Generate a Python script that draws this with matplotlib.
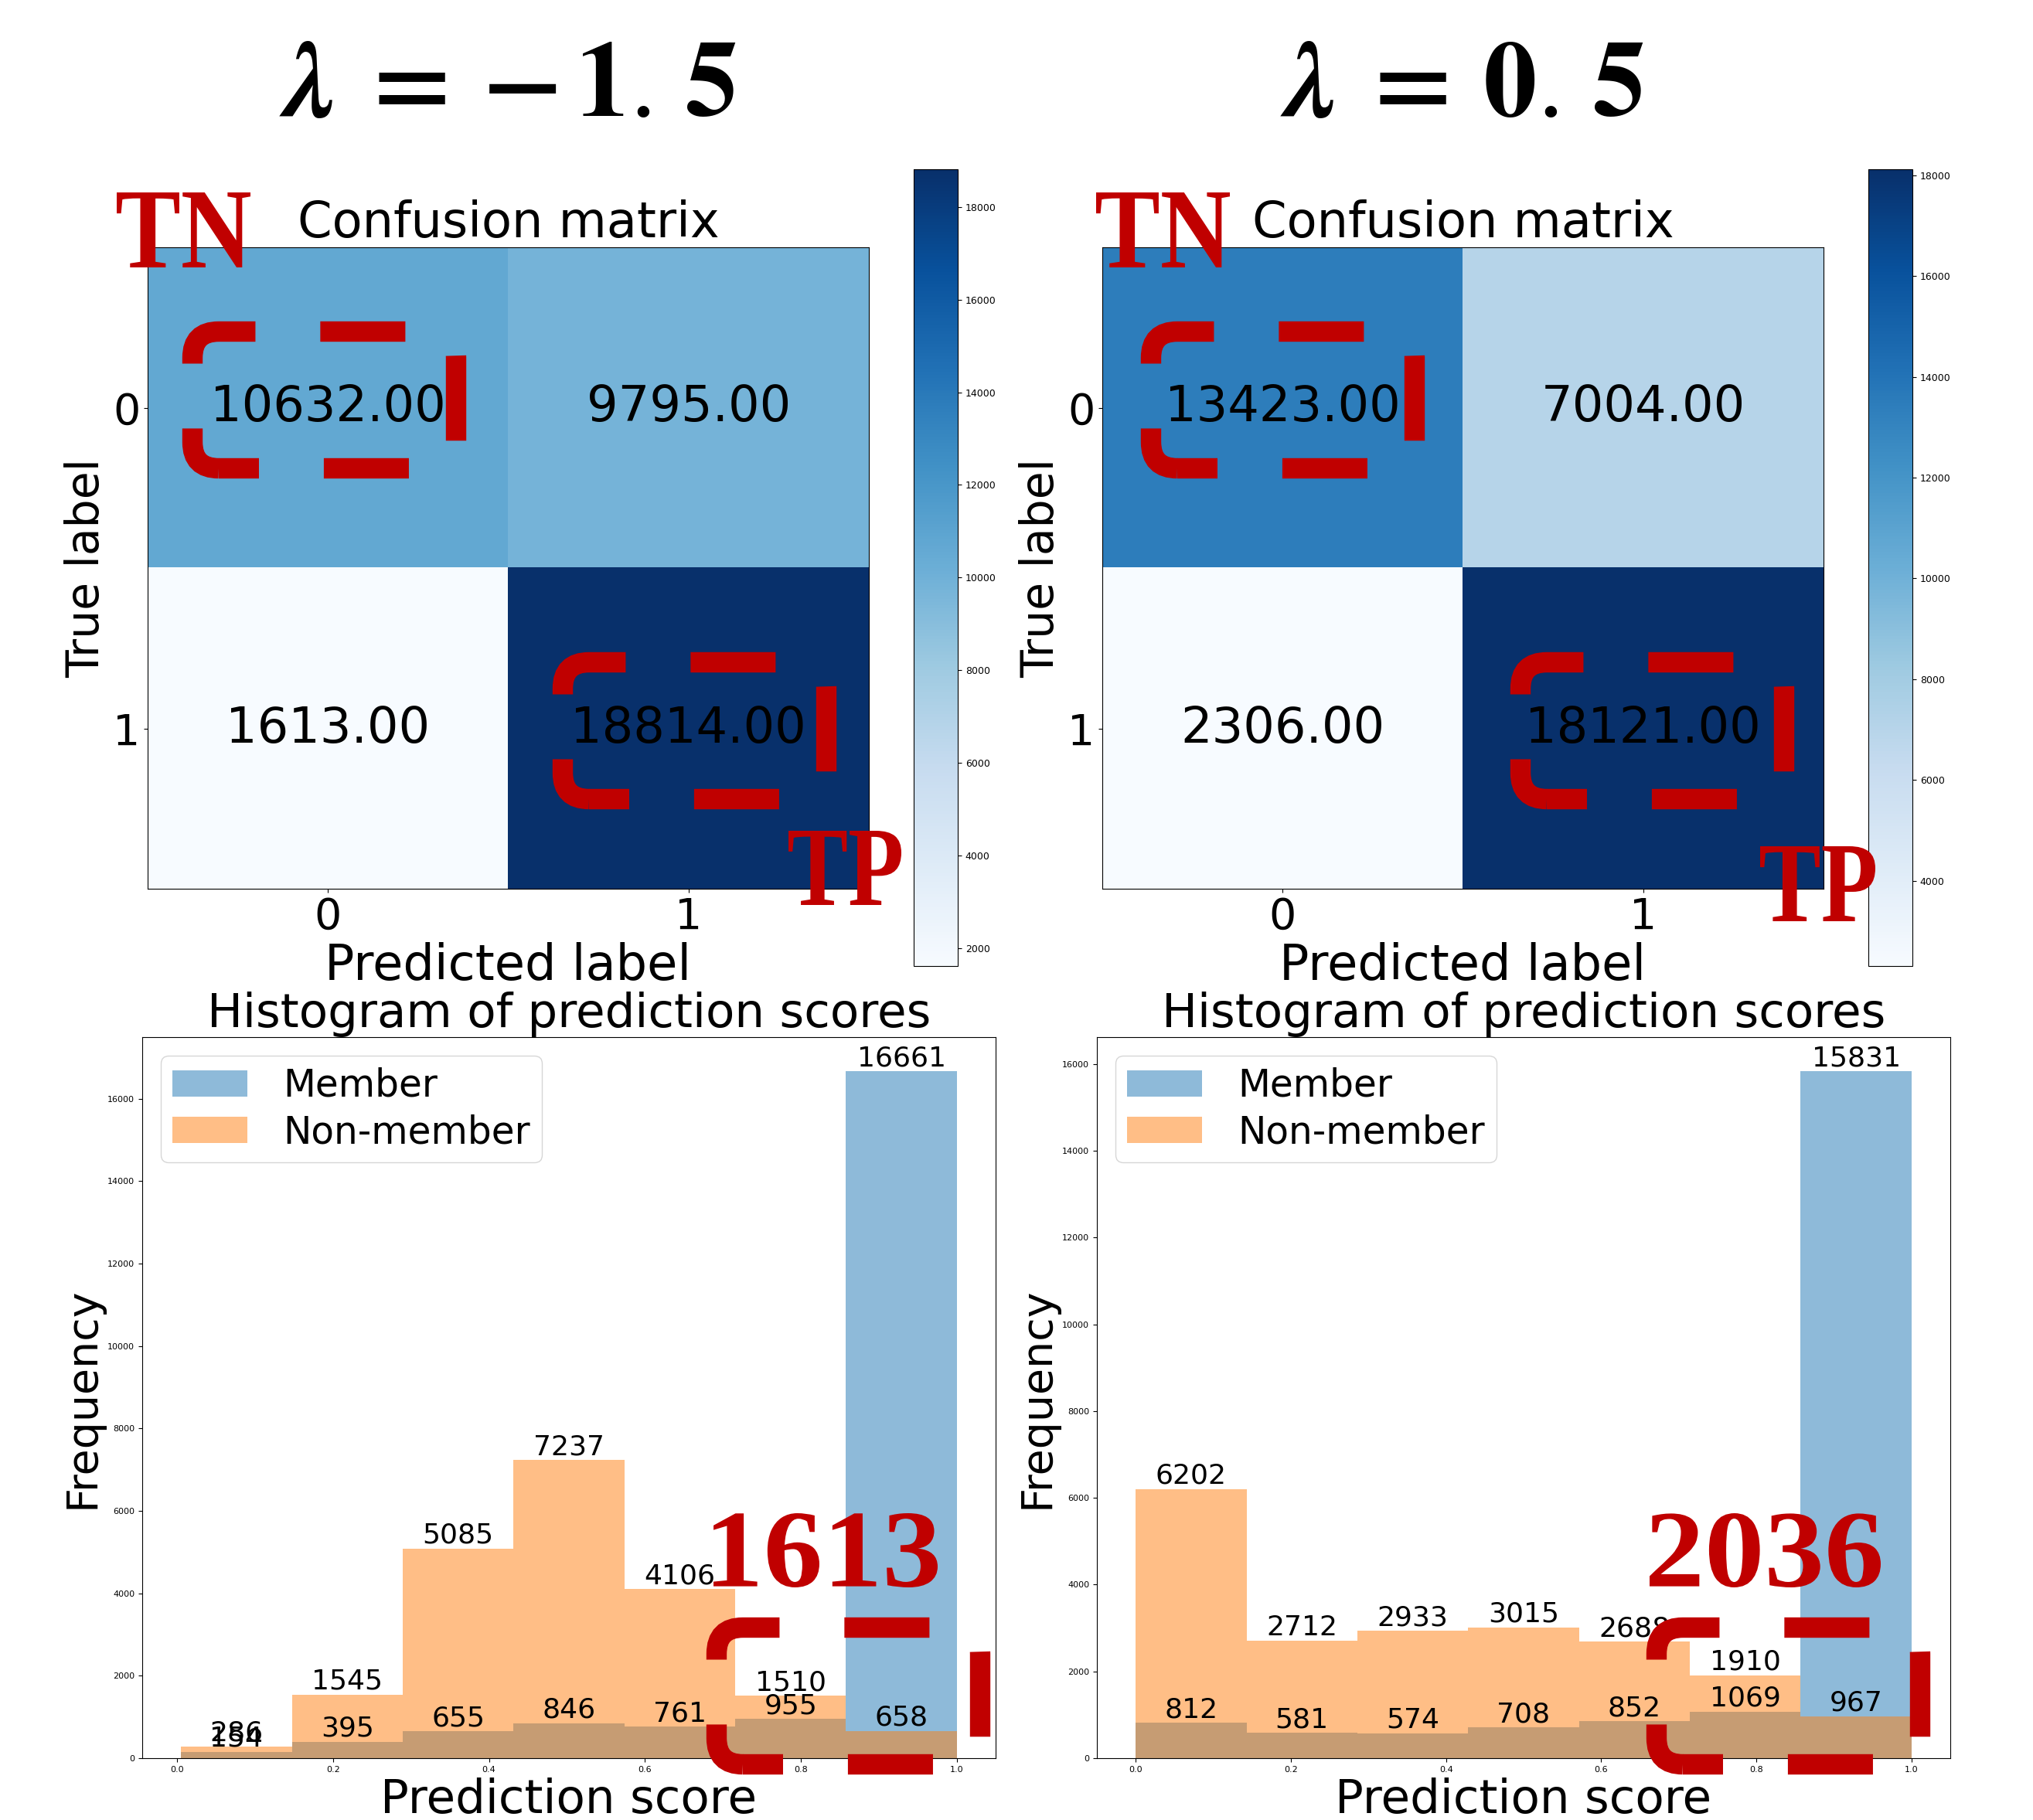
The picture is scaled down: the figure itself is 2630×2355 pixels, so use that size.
import numpy as np
import matplotlib
matplotlib.use("Agg")
import matplotlib.pyplot as plt
from matplotlib.patches import FancyBboxPatch, PathPatch
from matplotlib.textpath import TextPath
from matplotlib.font_manager import FontProperties
from matplotlib.transforms import Affine2D, IdentityTransform

W, H = 2630, 2355
RED = '#c00000'

# data
lambdas = [r'-\,1.\,5', r'0.\,5']
cm_left = [[10632, 9795], [1613, 18814]]
cm_right = [[13423, 7004], [2306, 18121]]
member_left = [154, 395, 655, 846, 761, 955, 16661]
nonmember_left = [286, 1545, 5085, 7237, 4106, 1510, 658]
member_right = [812, 581, 574, 708, 852, 1069, 15831]
nonmember_right = [6202, 2712, 2933, 3015, 2688, 1910, 967]
score_min = [0.005, 0.0]
notes = ['1613', '2036']

fig = plt.figure(figsize=(W / 100, H / 100), dpi=100)


def ax_px(x0, y0, x1, y1):
    # pixel box (top-left origin) -> figure axes
    return fig.add_axes([x0 / W, 1 - y1 / H, (x1 - x0) / W, (y1 - y0) / H])


def red_word(s, x0, y0, x1, y1):
    tp = TextPath((0, 0), s, size=100,
                  prop=FontProperties(family='Liberation Serif', weight='bold'))
    ext = tp.get_extents()
    tr = (Affine2D().translate(-ext.x0, -ext.y0)
          .scale((x1 - x0) / ext.width, (y1 - y0) / ext.height)
          .translate(x0, H - y1))
    fig.add_artist(PathPatch(tr.transform_path(tp), transform=IdentityTransform(),
                             color=RED, lw=0, zorder=5))


def red_box(x0, y0, w=341, h=177):
    p = FancyBboxPatch((x0, H - y0 - h), w, h,
                       boxstyle='round,pad=0,rounding_size=34',
                       transform=IdentityTransform(), fill=False, ec=RED, lw=19,
                       linestyle=(2.2, (4.17, 3.18)), capstyle='butt', zorder=5)
    fig.add_artist(p)


panels = [
    (lambdas[0], cm_left, member_left, nonmember_left, score_min[0]),
    (lambdas[1], cm_right, member_right, nonmember_right, score_min[1]),
]

for k, (lam, cm, mem, non, smin) in enumerate(panels):
    dx = 1235 * k

    # title
    fig.text((657 + dx) / W, 1 - 150 / H,
             r'$\mathbfit{\lambda}\;\boldsymbol{=}\;\boldsymbol{%s}$' % lam,
             ha='center', va='baseline', fontsize=100, math_fontfamily='stix')

    # confusion matrix
    ax = ax_px(191 + dx, 320, 1124 + dx, 1150)
    cax = ax_px(1182 + dx, 219, 1239 + dx, 1250)
    im = ax.imshow(np.array(cm), cmap='Blues', aspect='auto', interpolation='nearest')
    ax.set_title('Confusion matrix', fontsize=46)
    ax.set_xticks([0, 1])
    ax.set_yticks([0, 1])
    ax.tick_params(labelsize=40)
    for i in range(2):
        for j in range(2):
            ax.text(j, i, f'{cm[i][j]:.2f}', ha='center', va='center', fontsize=46)
    ax.set_xlabel('Predicted label', fontsize=46)
    ax.set_ylabel('True label', fontsize=42)
    cb = fig.colorbar(im, cax=cax)
    cb.ax.tick_params(labelsize=9)

    # histogram
    hx = ax_px(184 + dx, 1342, 1288 + dx, 2275)
    edges = np.linspace(smin, 1, 8)
    widths = np.diff(edges)
    centers = edges[:-1] + widths / 2
    hx.bar(edges[:-1], mem, width=widths, align='edge', color='C0', alpha=0.5,
           lw=0, label='Member')
    hx.bar(edges[:-1], non, width=widths, align='edge', color='C1', alpha=0.5,
           lw=0, label='Non-member')
    for x, v in zip(centers, mem):
        hx.text(x, v, str(v), ha='center', va='bottom', fontsize=26)
    for x, v in zip(centers, non):
        hx.text(x, v, str(v), ha='center', va='bottom', fontsize=26)
    hx.set_title('Histogram of prediction scores', fontsize=44)
    hx.set_xlabel('Prediction score', fontsize=44)
    hx.set_ylabel('Frequency', fontsize=40)
    hx.tick_params(labelsize=8)
    hx.legend(loc='upper left', fontsize=35, labelspacing=0.25, borderpad=0.3,
              handletextpad=0.95)

# red overlays
red_word('TN', 151, 249, 324, 346)
red_word('TN', 1418, 249, 1591, 346)
red_word('TP', 1020, 1075, 1166, 1171)
red_word('TP', 2277, 1095, 2426, 1192)
red_word(notes[0], 923, 1958, 1213, 2054)
red_word(notes[1], 2134, 1958, 2433, 2054)
for bx, by in [(249, 429), (728, 857), (1489, 429), (1967, 857), (927, 2106), (2143, 2106)]:
    red_box(bx, by)

fig.savefig('out.png', dpi=100)
